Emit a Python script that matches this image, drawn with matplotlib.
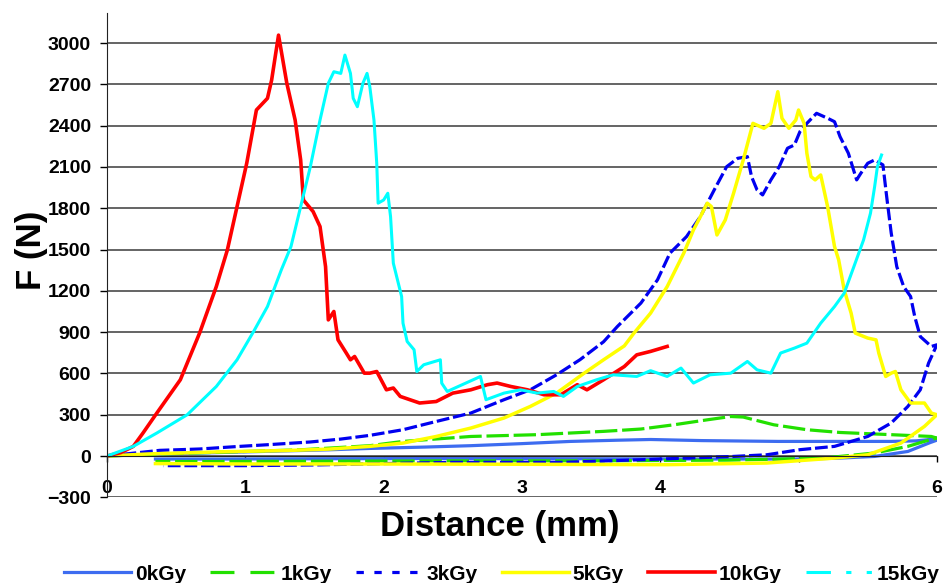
import matplotlib.pyplot as plt
from matplotlib.lines import Line2D

plt.rcParams['font.family'] = ['Liberation Sans', 'DejaVu Sans']
plt.rcParams['font.weight'] = 'bold'

# 0kGy
x_0 = [0, 0.35, 0.8, 1.2, 1.6, 1.9, 2.3, 2.63, 3.0, 3.35, 3.7, 3.93, 4.3, 4.85, 5.3, 5.67,
       5.85, 5.98, 6.0, 5.95, 5.79, 5.55, 5.3, 5.06, 4.5, 3.5, 2.5, 1.5, 0.8, 0.35]
y_0 = [0, 15, 25, 35, 45, 55, 65, 75, 90, 106, 115, 120, 112, 106, 106, 106,
       110, 123, 115, 97, 33, -3, -15, -22, -22, -20, -18, -20, -22, -22]

# 1kGy
x_1 = [0, 0.4, 0.9, 1.4, 1.9, 2.14, 2.63, 3.11, 3.59, 3.86, 4.1, 4.34, 4.51, 4.6, 4.82, 5.06,
       5.3, 5.67, 5.96, 6.0, 5.95, 5.79, 5.55, 5.18, 4.5, 3.5, 2.5, 1.5, 0.8, 0.35]
y_1 = [0, 15, 30, 45, 75, 106, 142, 155, 179, 196, 227, 263, 287, 283, 227, 191,
       171, 155, 142, 130, 118, 70, 22, -15, -30, -35, -35, -38, -40, -40]

# 3kGy
x_3 = [0, 0.38, 0.67, 0.96, 1.16, 1.47, 1.69, 1.90, 2.14, 2.38, 2.63, 2.87, 3.06, 3.25, 3.42,
       3.59, 3.69, 3.86, 3.98, 4.07, 4.19, 4.29, 4.39, 4.48, 4.56, 4.63, 4.66, 4.70, 4.74, 4.80,
       4.86, 4.92, 4.97, 5.01, 5.06, 5.13, 5.21, 5.26, 5.30, 5.36, 5.42, 5.45, 5.50, 5.55, 5.61,
       5.64, 5.67, 5.71, 5.76, 5.81, 5.84, 5.88, 5.96, 6.0, 5.94, 5.88, 5.79, 5.67, 5.50, 5.26,
       5.01, 4.77, 4.53, 3.86, 3.3, 2.5, 2.0, 1.5, 1.0, 0.41]
y_3 = [0, 41, 51, 70, 82, 102, 123, 150, 191, 251, 312, 409, 481, 590, 700,
       830, 941, 1111, 1280, 1474, 1594, 1739, 1933, 2102, 2163, 2175, 2030, 1933, 1897, 2006,
       2102, 2236, 2260, 2357, 2417, 2490, 2454, 2429, 2320, 2200, 2006, 2054, 2127, 2151, 2115,
       1860, 1619, 1376, 1231, 1159, 1013, 868, 796, 808, 675, 481, 360, 240, 142, 70,
       46, 9, -3, -27, -46, -46, -55, -65, -70, -70]

# 5kGy
x_5 = [0, 0.3, 0.8, 1.3, 1.6, 1.9, 2.14, 2.38, 2.63, 2.87, 3.06, 3.25, 3.45, 3.59, 3.74, 3.81,
       3.93, 4.05, 4.17, 4.24, 4.29, 4.34, 4.37, 4.41, 4.47, 4.53, 4.60, 4.67, 4.75, 4.80, 4.85,
       4.88, 4.93, 4.98, 5.00, 5.04, 5.06, 5.09, 5.12, 5.16, 5.21, 5.26, 5.29, 5.33, 5.38, 5.41,
       5.50, 5.56, 5.58, 5.63, 5.67, 5.70, 5.74, 5.81, 5.91, 5.96, 6.00, 5.91, 5.74, 5.50, 5.26,
       4.77, 4.05, 3.0, 2.0, 1.0, 0.35]
y_5 = [0, 15, 30, 40, 50, 70, 94, 142, 203, 276, 360, 457, 602, 699, 800, 893,
       1038, 1231, 1474, 1643, 1739, 1837, 1812, 1606, 1715, 1909, 2151, 2417, 2381, 2417, 2647,
       2454, 2381, 2441, 2514, 2417, 2200, 2030, 2006, 2042, 1812, 1522, 1425, 1207, 1038, 893,
       857, 844, 748, 578, 602, 614, 481, 385, 385, 312, 300, 215, 94, 9, -15,
       -51, -63, -60, -58, -58, -55]

# 10kGy
x_10 = [0, 0.1, 0.19, 0.26, 0.36, 0.53, 0.67, 0.79, 0.87, 0.94, 1.01, 1.08, 1.16, 1.19, 1.24, 1.30,
        1.36, 1.40, 1.42, 1.49, 1.54, 1.58, 1.60, 1.64, 1.67, 1.73, 1.76, 1.79, 1.86, 1.90, 1.95,
        2.02, 2.07, 2.12, 2.26, 2.38, 2.50, 2.63, 2.75, 2.82, 2.92, 3.04, 3.16, 3.28, 3.40, 3.47,
        3.59, 3.74, 3.83, 3.93, 4.05]
y_10 = [0, 25, 70, 167, 312, 554, 895, 1231, 1497, 1812, 2127, 2514, 2599, 2731, 3058, 2708,
        2441, 2151, 1860, 1776, 1667, 1376, 989, 1050, 844, 748, 699, 723, 602, 602, 614,
        481, 494, 433, 385, 396, 457, 481, 518, 530, 505, 481, 445, 445, 518, 481,
        554, 650, 735, 760, 796]

# 15kGy
x_15 = [0, 0.19, 0.36, 0.58, 0.79, 0.94, 1.06, 1.16, 1.26, 1.33, 1.40, 1.47, 1.54, 1.60, 1.64,
        1.69, 1.72, 1.76, 1.78, 1.81, 1.85, 1.88, 1.90, 1.93, 1.95, 1.96, 2.00, 2.03, 2.05, 2.07,
        2.10, 2.13, 2.14, 2.17, 2.22, 2.24, 2.29, 2.37, 2.41, 2.42, 2.46, 2.70, 2.74, 2.87, 2.99,
        3.11, 3.23, 3.30, 3.40, 3.54, 3.66, 3.83, 3.93, 4.05, 4.15, 4.24, 4.36, 4.51, 4.63, 4.70,
        4.80, 4.87, 4.97, 5.06, 5.16, 5.26, 5.33, 5.40, 5.47, 5.52, 5.55, 5.57, 5.60]
y_15 = [0, 70, 167, 300, 505, 699, 905, 1086, 1352, 1522, 1812, 2102, 2441, 2708, 2792,
        2780, 2913, 2780, 2599, 2538, 2708, 2780, 2683, 2441, 2129, 1837, 1860, 1909, 1739, 1401,
        1280, 1159, 965, 832, 772, 614, 663, 687, 699, 529, 469, 578, 409, 457, 481,
        457, 469, 433, 505, 554, 590, 578, 620, 578, 639, 530, 590, 602, 687, 626,
        602, 748, 784, 820, 965, 1086, 1183, 1376, 1570, 1764, 1957, 2102, 2187]

labels = ['0kGy', '1kGy', '3kGy', '5kGy', '10kGy', '15kGy']
colors = ['#3d6cf0', '#22e000', '#0000f0', '#ffff00', '#ff0000', '#00ffff']
y_ticks = [-300, 0, 300, 600, 900, 1200, 1500, 1800, 2100, 2400, 2700, 3000]

fig = plt.figure(figsize=(9.43, 5.83), dpi=100)
ax = fig.add_axes([0.1135, 0.147, 0.88, 0.831])

# styles inside the plot (dense points look mostly solid)
ax.plot(x_0, y_0, color=colors[0], lw=2.3)
ax.plot(x_1, y_1, color=colors[1], lw=2.3, dashes=(7, 1.5))
ax.plot(x_3, y_3, color=colors[2], lw=2.3, dashes=(4, 1.2))
ax.plot(x_5, y_5, color=colors[3], lw=2.5)
ax.plot(x_10, y_10, color=colors[4], lw=2.6)
ax.plot(x_15, y_15, color=colors[5], lw=2.2)

ax.set_xlim(0, 6)
ax.set_ylim(-300, 3220)
ax.set_yticks(y_ticks)
ax.set_xticks(range(7))
ax.grid(axis='y', color='#3a3a3a', lw=1.1, zorder=0)
ax.set_axisbelow(True)

for s in ['top', 'right']:
    ax.spines[s].set_visible(False)
ax.spines['bottom'].set_position(('data', 0))
ax.spines['bottom'].set_color('#222222')
ax.spines['left'].set_color('#222222')
ax.tick_params(axis='y', direction='out', length=5, width=1, pad=6.5, labelsize=14)
ax.tick_params(axis='x', direction='out', length=4, width=1, pad=13, labelsize=14)

ax.set_xlabel('Distance (mm)', fontsize=25, fontweight='bold')
ax.xaxis.set_label_coords(0.4735, -0.061)
ax.xaxis.label.set_va('center')
ax.set_ylabel('F (N)', fontsize=25, fontweight='bold')
ax.yaxis.set_label_coords(-0.091, 0.51)
ax.yaxis.label.set_va('center')

# legend handles (dash patterns as in the legend)
handles = [
    Line2D([], [], color=colors[0], lw=2.3),
    Line2D([], [], color=colors[1], lw=2.3, dashes=(7.5, 5)),
    Line2D([], [], color=colors[2], lw=2.3, dashes=(2.3, 3.3)),
    Line2D([], [], color=colors[3], lw=2.5),
    Line2D([], [], color=colors[4], lw=2.6),
    Line2D([], [], color=colors[5], lw=2.2, dashes=(8, 5, 1.7, 5, 1.7, 5)),
]
fig.legend(handles, labels, loc='center', bbox_to_anchor=(0.532, 0.015), ncol=6,
           frameon=False, fontsize=15, handlelength=3.2, handletextpad=0.2,
           columnspacing=1.15, borderpad=0)

fig.savefig('out.png', dpi=100)
